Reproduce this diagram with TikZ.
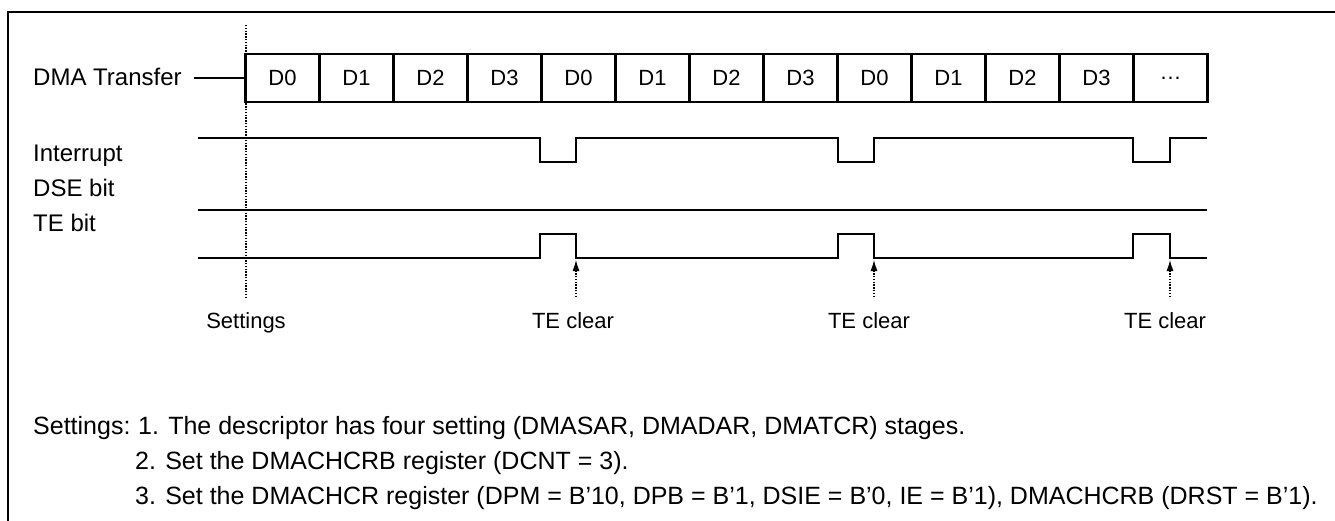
\documentclass[tikz,border=0pt]{standalone}
\usepackage{fontspec}
\setmainfont{Liberation Sans}
\usetikzlibrary{arrows.meta}
\begin{document}
\begin{tikzpicture}[x=1pt,y=-1pt,
  lbl/.style={font=\fontsize{24}{28}\selectfont, inner sep=0pt, anchor=base west},
  bt/.style={font=\fontsize{25}{30}\selectfont, inner sep=0pt, anchor=base west},
  sub/.style={font=\fontsize{22}{26}\selectfont, inner sep=0pt, anchor=base},
  cell/.style={draw, line width=2.5pt, minimum width=74pt, minimum height=48pt, inner sep=0pt, font=\fontsize{22}{26}\selectfont},
  sig/.style={line width=2.4pt, line join=miter},
  guide/.style={line width=1.1pt, dash pattern=on 1.4pt off 1.4pt},
  clr/.style={line width=1.1pt, dash pattern=on 1.4pt off 1.4pt, -{Latex[length=11pt,width=7pt]}}
]
\useasboundingbox (0,0) rectangle (1335,520);
\clip (0,0) rectangle (1335,520);
% frame
\draw[line width=2.6pt] (8,530) -- (8,12) -- (1345,12);
% cells
\foreach \t [count=\i from 0] in {D0,D1,D2,D3,D0,D1,D2,D3,D0,D1,D2,D3,\ldots}
  \node[cell] (b\i) at (282.5+74*\i,78) {\t};
% labels
\node[lbl] (dma) at (33,85.5) {DMA Transfer};
\node[lbl] (int) at (33,161.5) {Interrupt};
\node[lbl] (dse) at (33,196.5) {DSE bit};
\node[lbl] (te) at (33,231) {TE bit};
\draw[line width=1.3pt, shorten <=12pt] (dma.east |- b0.west) -- (b0.west);
% settings guide
\coordinate (gtop) at (246,25);
\coordinate (gbot) at (246,297);
\draw[guide] (gtop) -- (gbot);
% interrupt
\draw[sig] (198,138) -- (540,138) -- (540,162) -- (576,162) -- (576,138)
  -- (838,138) -- (838,162) -- (874,162) -- (874,138)
  -- (1133,138) -- (1133,162) -- (1170,162) -- (1170,138) -- (1207,138);
% DSE
\draw[sig] (198,210) -- (1207,210);
% TE
\draw[sig] (198,258) -- (540,258) -- (540,234) -- (576,234) -- (576,258)
  -- (838,258) -- (838,234) -- (874,234) -- (874,258)
  -- (1133,258) -- (1133,234) -- (1170,234) -- (1170,258) -- (1207,258);
% TE clear arrows
\foreach \x [count=\k] in {576,874,1170}{
  \coordinate (ta\k) at (\x,297);
  \coordinate (tb\k) at (\x,260);
  \draw[clr] (ta\k) -- (tb\k);
}
\node[sub] (set) at (246,328) {Settings};
\node[sub] (tc1) at (573,328) {TE clear};
\node[sub] (tc2) at (869,328) {TE clear};
\node[sub] (tc3) at (1165,328) {TE clear};
% bottom text
\node[bt] (s0) at (33,434) {Settings:};
\node[bt] (s1) at (138,434) {1. The descriptor has four setting (DMASAR, DMADAR, DMATCR) stages.};
\node[bt] (s2) at (135,469) {2. Set the DMACHCRB register (DCNT = 3).};
\node[bt] (s3) at (135,504) {3. Set the DMACHCR register (DPM = B'10, DPB = B'1, DSIE = B'0, IE = B'1), DMACHCRB (DRST = B'1).};
\end{tikzpicture}
\end{document}
